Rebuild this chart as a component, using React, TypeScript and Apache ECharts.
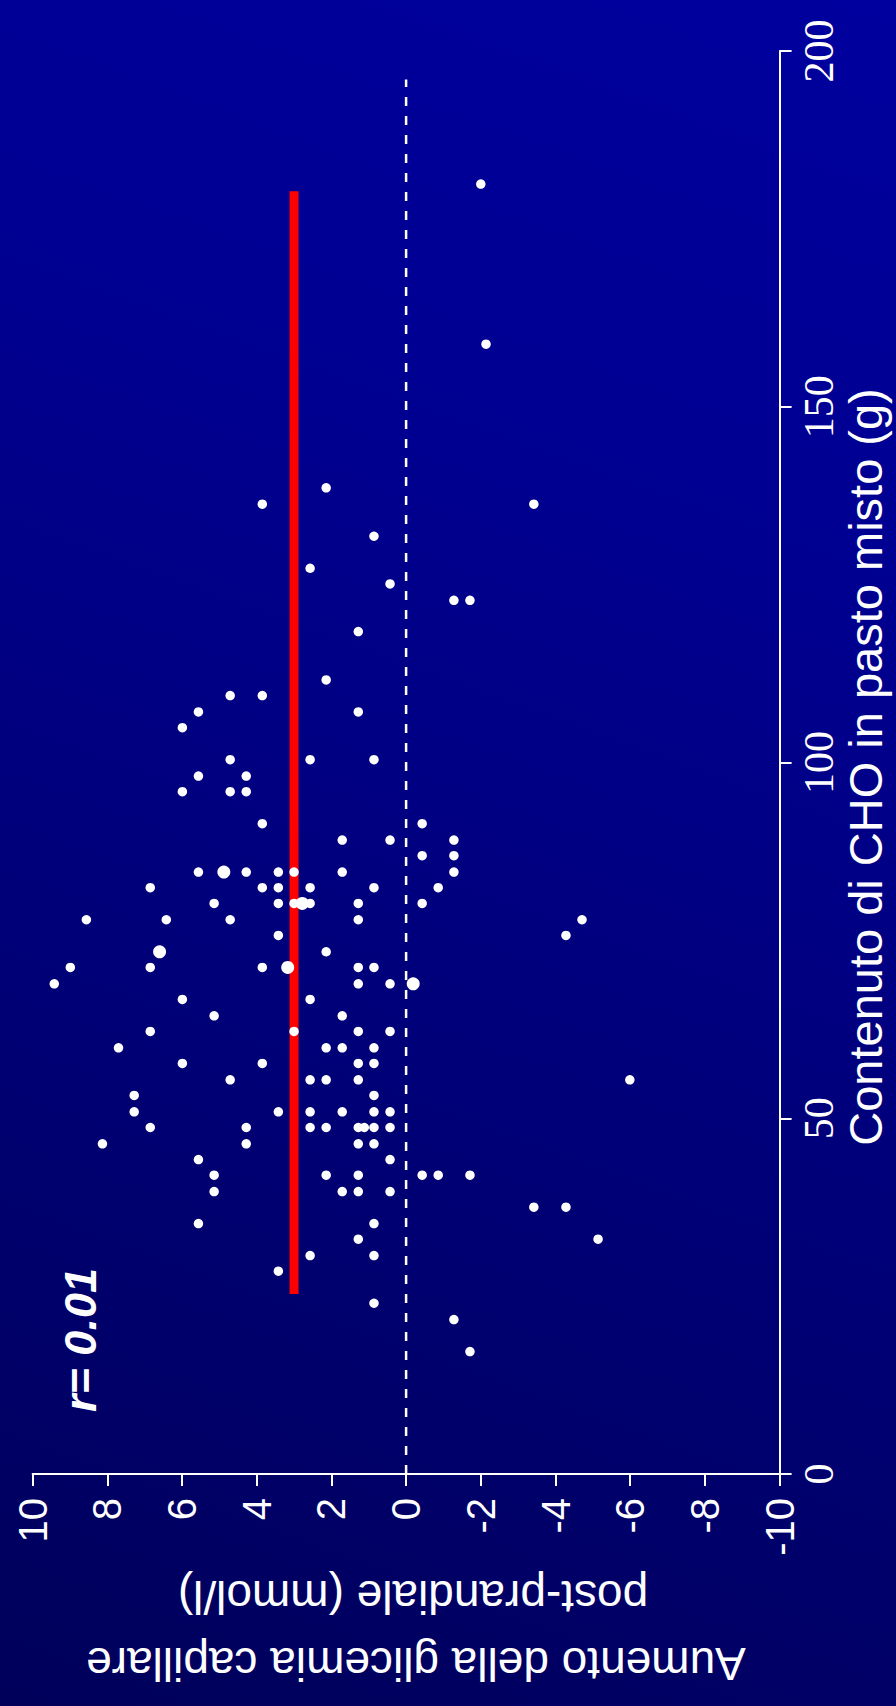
import React, { useEffect, useRef } from "react";
import * as echarts from "echarts";

// Glycaemia rise (mmol/l) vs CHO content (g): [glyc, cho]
const points: [number, number][] = [
  [-2.0, 181.3],
  [-2.14, 158.8],
  [2.14, 138.6],
  [3.85, 136.3], [-3.42, 136.3],
  [0.86, 131.8],
  [2.57, 127.3],
  [0.43, 125.1],
  [-1.28, 122.8], [-1.71, 122.8],
  [1.28, 118.4],
  [2.14, 111.6],
  [4.71, 109.4], [3.85, 109.4],
  [5.56, 107.1], [1.28, 107.1],
  [5.99, 104.9],
  [4.71, 100.4], [2.57, 100.4], [0.86, 100.4],
  [5.56, 98.1], [4.28, 98.1],
  [5.99, 95.9], [4.71, 95.9], [4.28, 95.9],
  [3.85, 91.4], [-0.43, 91.4],
  [1.71, 89.1], [0.43, 89.1], [-1.28, 89.1],
  [-0.43, 86.9], [-1.28, 86.9],
  [5.56, 84.6], [4.28, 84.6], [3.42, 84.6], [3.0, 84.6], [1.71, 84.6], [-1.28, 84.6],
  [6.85, 82.4], [3.85, 82.4], [3.42, 82.4], [2.57, 82.4], [0.86, 82.4], [-0.86, 82.4],
  [5.14, 80.2], [3.42, 80.2], [3.0, 80.2], [2.57, 80.2], [1.28, 80.2], [-0.43, 80.2],
  [8.56, 77.9], [6.42, 77.9], [4.71, 77.9], [1.28, 77.9], [-4.71, 77.9],
  [3.42, 75.7], [-4.28, 75.7],
  [2.14, 73.4],
  [8.99, 71.2], [6.85, 71.2], [3.85, 71.2], [1.28, 71.2], [0.86, 71.2],
  [9.42, 68.9], [1.28, 68.9], [0.43, 68.9],
  [5.99, 66.7], [2.57, 66.7],
  [5.14, 64.4], [1.71, 64.4],
  [6.85, 62.2], [3.0, 62.2], [1.28, 62.2], [0.43, 62.2],
  [7.7, 59.9], [2.14, 59.9], [1.71, 59.9], [0.86, 59.9],
  [5.99, 57.7], [3.85, 57.7], [1.28, 57.7], [0.86, 57.7],
  [4.71, 55.4], [2.57, 55.4], [2.14, 55.4], [1.28, 55.4], [-5.99, 55.4],
  [7.28, 53.2], [0.86, 53.2],
  [7.28, 50.9], [3.42, 50.9], [2.57, 50.9], [1.71, 50.9], [0.86, 50.9], [0.43, 50.9],
  [6.85, 48.7], [4.28, 48.7], [2.57, 48.7], [2.14, 48.7], [1.28, 48.7], [1.12, 48.7], [0.86, 48.7], [0.43, 48.7],
  [8.13, 46.4], [4.28, 46.4], [1.28, 46.4], [0.86, 46.4],
  [5.56, 44.2], [0.43, 44.2],
  [5.14, 42.0], [2.14, 42.0], [1.28, 42.0], [-0.43, 42.0], [-0.86, 42.0], [-1.71, 42.0],
  [5.14, 39.7], [1.71, 39.7], [1.28, 39.7], [0.43, 39.7],
  [-3.42, 37.5], [-4.28, 37.5],
  [5.56, 35.2], [0.86, 35.2],
  [1.28, 33.0], [-5.14, 33.0],
  [2.57, 30.7], [0.86, 30.7],
  [3.42, 28.5],
  [0.86, 24.0],
  [-1.28, 21.7],
  [-1.71, 17.2],
];

// Overlapping (double) observations drawn as bigger dots
const overlapPoints: [number, number][] = [
  [4.88, 84.6],
  [2.78, 80.2],
  [6.6, 73.4],
  [3.17, 71.2],
  [-0.19, 68.9],
];

// Regression line (r = 0.01) and zero reference line
const fitLine: [number, number][] = [[3.0, 25.3], [3.0, 180.3]];
const zeroLine: [number, number][] = [[0, 0], [0, 196]];

const glycRange = { min: -10, max: 10, interval: 2 };
const choRange = { min: 0, max: 200, interval: 50 };

const xTitleLines = ["post-prandiale (mmol/l)", "Aumento della glicemia capillare"];
const yTitle = "Contenuto di CHO in pasto misto (g)";
const rLabel = "r= 0.01";

export default function App() {
  const ref = useRef<HTMLDivElement>(null);

  useEffect(() => {
    if (!ref.current) return;
    const chart = echarts.init(ref.current, null, { renderer: "svg" });
    const sans = "Liberation Sans";
    const serif = "Liberation Serif, Times New Roman, Times, serif";
    chart.setOption({
      animation: false,
      backgroundColor: "transparent",
      textStyle: { fontFamily: sans },
      grid: { left: 32.6, top: 51, width: 747, height: 1423, containLabel: false },
      xAxis: {
        type: "value",
        position: "bottom",
        inverse: true,
        min: glycRange.min,
        max: glycRange.max,
        interval: glycRange.interval,
        axisLine: { show: true, onZero: false, lineStyle: { color: "#ffffff", width: 2 } },
        axisTick: { show: true, length: 12, lineStyle: { color: "#ffffff", width: 2 } },
        splitLine: { show: false },
        axisLabel: {
          rotate: 90,
          margin: 24,
          color: "#ffffff",
          fontSize: 40,
          fontFamily: sans,
        },
      },
      yAxis: {
        type: "value",
        position: "right",
        min: choRange.min,
        max: choRange.max,
        interval: choRange.interval,
        axisLine: { show: true, onZero: false, lineStyle: { color: "#ffffff", width: 2 } },
        axisTick: { show: true, length: 12, lineStyle: { color: "#ffffff", width: 2 } },
        splitLine: { show: false },
        axisLabel: {
          rotate: 90,
          margin: 18,
          color: "#ffffff",
          fontSize: 42,
          fontFamily: serif,
          fontStyle: "normal",
          fontWeight: "normal",
        },
      },
      graphic: [
        {
          type: "text",
          x: 80,
          y: 1340,
          rotation: Math.PI / 2,
          style: {
            text: rLabel,
            fill: "#ffffff",
            fontSize: 45,
            fontWeight: "bold",
            fontStyle: "italic",
            fontFamily: sans,
            align: "center",
            verticalAlign: "middle",
          },
        },
        {
          type: "text",
          x: 865,
          y: 767,
          rotation: Math.PI / 2,
          style: {
            text: yTitle,
            fill: "#ffffff",
            fontSize: 47,
            fontFamily: sans,
            align: "center",
            verticalAlign: "middle",
          },
        },
        {
          type: "text",
          x: 413,
          y: 1597,
          rotation: Math.PI,
          style: {
            text: xTitleLines[0],
            fill: "#ffffff",
            fontSize: 46,
            fontFamily: sans,
            align: "center",
            verticalAlign: "middle",
          },
        },
        {
          type: "text",
          x: 416,
          y: 1664,
          rotation: Math.PI,
          style: {
            text: xTitleLines[1],
            fill: "#ffffff",
            fontSize: 46,
            fontFamily: sans,
            align: "center",
            verticalAlign: "middle",
          },
        },
      ],
      series: [
        {
          type: "line",
          data: zeroLine,
          symbol: "none",
          silent: true,
          z: 1,
          lineStyle: { color: "#ffffff", width: 2.5, type: [9, 10], opacity: 1 },
        },
        {
          type: "line",
          data: fitLine,
          symbol: "none",
          silent: true,
          z: 2,
          lineStyle: { color: "#ff0000", width: 9, cap: "butt", opacity: 1 },
        },
        {
          type: "scatter",
          data: points,
          symbol: "circle",
          symbolSize: 9.5,
          z: 3,
          itemStyle: { color: "#ffffff", opacity: 1 },
        },
        {
          type: "scatter",
          data: overlapPoints,
          symbol: "circle",
          symbolSize: 13,
          z: 3,
          itemStyle: { color: "#ffffff", opacity: 1 },
        },
      ],
    });
    return () => chart.dispose();
  }, []);

  return (
    <div
      ref={ref}
      style={{
        position: "absolute",
        left: 0,
        top: 0,
        width: 896,
        height: 1706,
        background: "linear-gradient(20deg, #00005a 0%, #000090 70%, #00009e 100%)",
      }}
    />
  );
}
